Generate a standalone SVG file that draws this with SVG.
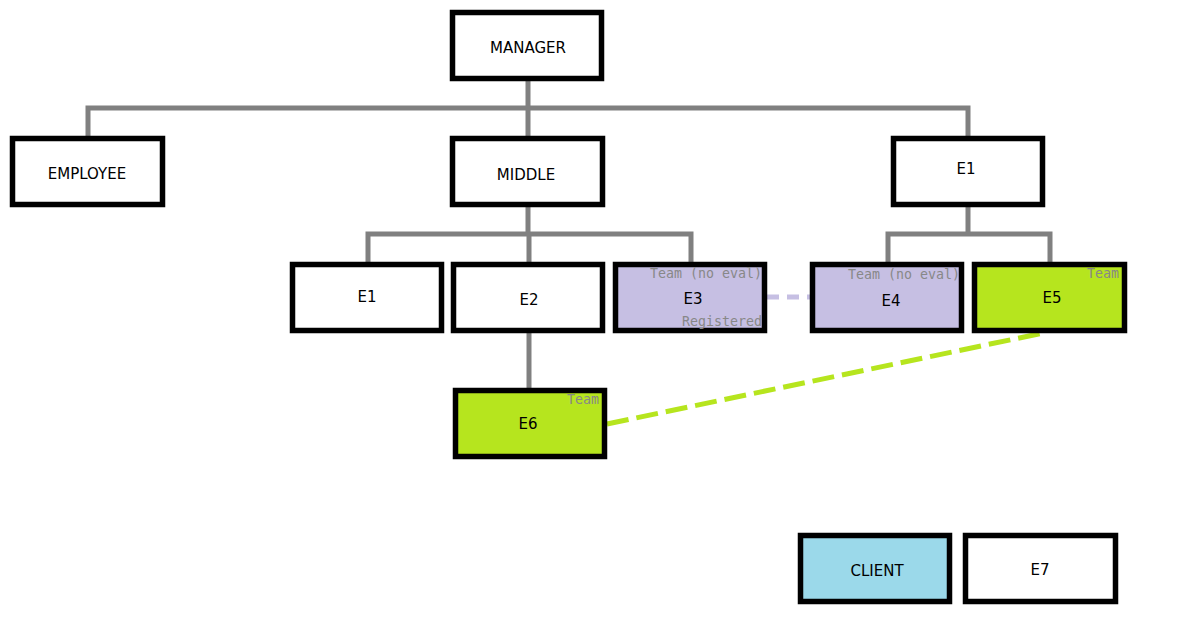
<svg xmlns="http://www.w3.org/2000/svg" width="1177" height="617" viewBox="0 0 1177 617">
<style>
.box{stroke:#000;stroke-width:5.5}
.w{fill:#fff}.lav{fill:#c6bfe3}.grn{fill:#b6e51e}.blu{fill:#9bd9ea}
.lbl{font-family:"DejaVu Sans",sans-serif;font-size:15px;fill:#000;text-anchor:middle}
.sm{font-family:"DejaVu Sans Mono",monospace;font-size:13.3px;fill:#888;text-anchor:end}
.con{stroke:#808080;stroke-width:5;fill:none}
</style>
<rect width="1177" height="617" fill="#fff"/>
<g id="connectors">
<path class="con" d="M528 80V108M88 136V108H968V136M528 108V136"/>
<path class="con" d="M528 207V234M368 262V234H691V262M529 234V262"/>
<path class="con" d="M968 207V234M888 262V234H1050V262"/>
<path class="con" d="M529 332V388"/>
<line x1="767" y1="297" x2="810" y2="297" stroke="#c6bfe3" stroke-width="5" stroke-dasharray="12,8"/>
<line x1="607" y1="424" x2="1043" y2="333" stroke="#b6e51e" stroke-width="5" stroke-dasharray="22,8"/>
</g>
<g id="manager"><rect class="box w" x="452.5" y="12.5" width="149" height="66"/><text class="lbl" x="528" y="53">MANAGER</text></g>
<g id="employee"><rect class="box w" x="12.5" y="138.5" width="150" height="66"/><text class="lbl" x="87" y="179">EMPLOYEE</text></g>
<g id="middle"><rect class="box w" x="452.5" y="138.5" width="150" height="66"/><text class="lbl" x="526" y="180">MIDDLE</text></g>
<g id="e1r"><rect class="box w" x="893.5" y="138.5" width="149" height="66"/><text class="lbl" x="966" y="174">E1</text></g>
<g id="e1"><rect class="box w" x="292.5" y="264.5" width="149" height="66"/><text class="lbl" x="367" y="302">E1</text></g>
<g id="e2"><rect class="box w" x="453.5" y="264.5" width="149" height="66"/><text class="lbl" x="529" y="305">E2</text></g>
<g id="e3"><rect class="box lav" x="615.5" y="264.5" width="149" height="66"/><text class="lbl" x="693" y="304">E3</text><text class="sm" x="762" y="278">Team (no eval)</text><text class="sm" x="762" y="326">Registered</text></g>
<g id="e4"><rect class="box lav" x="812.5" y="264.5" width="149" height="66"/><text class="lbl" x="891" y="306">E4</text><text class="sm" x="960" y="279">Team (no eval)</text></g>
<g id="e5"><rect class="box grn" x="974.5" y="264.5" width="150" height="66"/><text class="lbl" x="1052" y="303">E5</text><text class="sm" x="1119" y="278">Team</text></g>
<g id="e6"><rect class="box grn" x="455.5" y="390.5" width="149" height="66"/><text class="lbl" x="528" y="429">E6</text><text class="sm" x="599" y="404">Team</text></g>
<g id="client"><rect class="box blu" x="800.5" y="535.5" width="149" height="66"/><text class="lbl" x="877" y="576">CLIENT</text></g>
<g id="e7"><rect class="box w" x="965.5" y="535.5" width="150" height="66"/><text class="lbl" x="1040" y="575">E7</text></g>
</svg>
